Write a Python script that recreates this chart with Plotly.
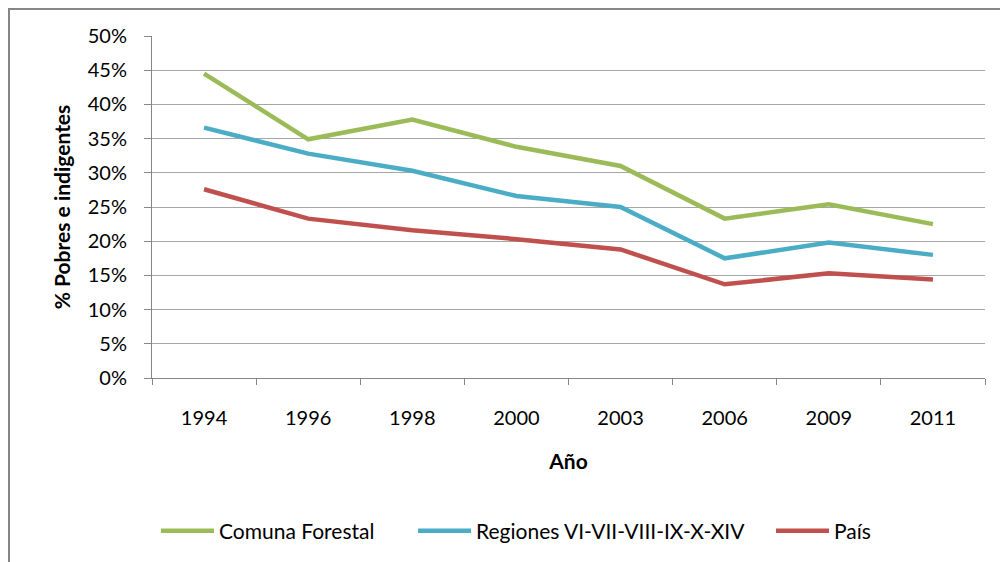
import plotly.graph_objects as go

years = ["1994", "1996", "1998", "2000", "2003", "2006", "2009", "2011"]
comuna_forestal = [0.445, 0.349, 0.378, 0.338, 0.310, 0.233, 0.254, 0.225]
regiones = [0.366, 0.328, 0.303, 0.266, 0.250, 0.175, 0.198, 0.180]
pais = [0.276, 0.233, 0.216, 0.203, 0.188, 0.137, 0.153, 0.144]

series_names = ["Comuna Forestal", "Regiones VI-VII-VIII-IX-X-XIV", "País"]
series_colors = ["#9BBB59", "#4BACC6", "#C0504D"]
series_values = [comuna_forestal, regiones, pais]

# page body has an 8px margin; work in page pixels and convert
OFF = 8
W, H = 1008 - OFF, 562 - OFF
PLOT_L, PLOT_R, PLOT_T, PLOT_B = 152, 985, 36, 378  # page px
L = PLOT_L - OFF
R = W - (PLOT_R - OFF)
T = PLOT_T - OFF
B = H - (PLOT_B - OFF)
pw, ph = W - L - R, H - T - B

def px_x(v):
    return (v - OFF - L) / pw

def px_y(v):
    return (H - B - (v - OFF)) / ph

FONT = "Lato"
legend_ids = ["legend", "legend2", "legend3"]
legend_x_page = [156, 413, 771]

fig = go.Figure()
for name, color, vals, lid in zip(series_names, series_colors, series_values, legend_ids):
    fig.add_trace(go.Scatter(
        x=years, y=vals, name=name, mode="lines",
        line=dict(color=color, width=4.5), legend=lid,
    ))

legend_common = dict(
    orientation="h", y=px_y(531), xanchor="left", yanchor="middle",
    font=dict(family=FONT, size=21, color="black"),
    itemwidth=53, bgcolor="rgba(0,0,0,0)",
)

fig.update_layout(
    width=W, height=H,
    margin=dict(l=L, r=R, t=T, b=B, autoexpand=False),
    paper_bgcolor="white", plot_bgcolor="white",
    font=dict(family=FONT, size=20, color="black"),
    showlegend=True,
    legend=dict(x=px_x(legend_x_page[0]), **legend_common),
    legend2=dict(x=px_x(legend_x_page[1]), **legend_common),
    legend3=dict(x=px_x(legend_x_page[2]), **legend_common),
    xaxis=dict(
        type="category", showgrid=False, showline=True, linecolor="#868686", linewidth=1,
        ticks="outside", tickson="boundaries", ticklen=6, tickcolor="#868686",
        ticklabelstandoff=22,
        tickfont=dict(family=FONT, size=20),
        title=dict(text="<b>Año</b>", font=dict(family=FONT, size=21), standoff=26),
        range=[-0.5, 7.5], fixedrange=True,
    ),
    yaxis=dict(
        range=[0, 0.5], dtick=0.05, tickformat=".0%",
        showgrid=True, gridcolor="#A6A6A6", gridwidth=1,
        showline=True, linecolor="#868686", linewidth=1, zeroline=False,
        ticks="outside", ticklen=7, tickcolor="#868686",
        ticklabelstandoff=13,
        tickfont=dict(family=FONT, size=20),
        title=dict(text="<b>% Pobres e indigentes</b>", font=dict(family=FONT, size=21), standoff=11),
        fixedrange=True,
    ),
    shapes=[dict(
        type="rect", xref="paper", yref="paper",
        x0=px_x(9), x1=px_x(1040), y0=px_y(620), y1=px_y(9),
        line=dict(color="#868686", width=2), fillcolor="rgba(0,0,0,0)", layer="below",
    )],
)

fig.write_html("out.html")
